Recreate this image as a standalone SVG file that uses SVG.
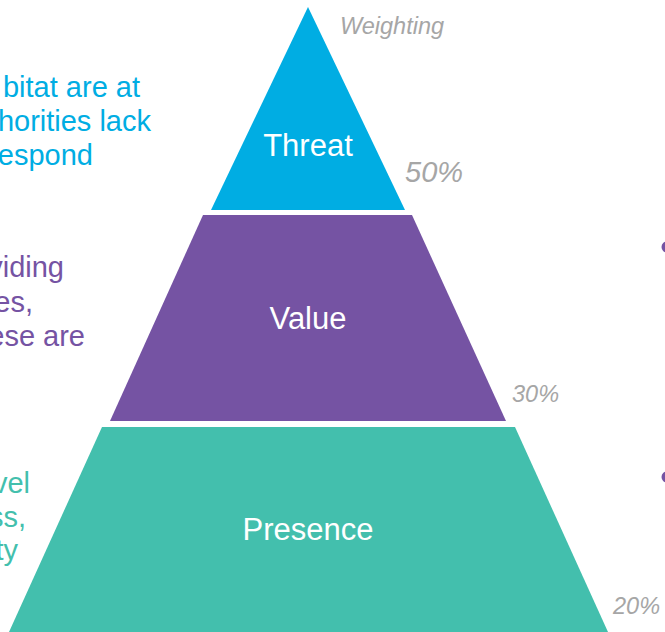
<svg xmlns="http://www.w3.org/2000/svg" width="665" height="632" viewBox="0 0 665 632">
<style>
.lbl{font-family:"Liberation Sans",Arial,sans-serif;font-size:31px;fill:#ffffff;text-anchor:middle}
.pct{font-family:"Liberation Sans",Arial,sans-serif;font-style:italic;fill:#a6a6a6}
.side{font-family:"Liberation Sans",Arial,sans-serif;font-size:29px;text-anchor:end}
.blue{fill:#00ade3}
.purple{fill:#7553a3}
.teal{fill:#43bfad}
</style>
<rect width="665" height="632" fill="#ffffff"/>
<g id="left-text">
<text class="side blue" x="140" y="97">bitat are at</text>
<text class="side blue" x="151" y="131">horities lack</text>
<text class="side blue" x="93" y="165">espond</text>
<text class="side purple" x="64" y="277">viding</text>
<text class="side purple" x="33" y="312">es,</text>
<text class="side purple" x="85" y="346">ese are</text>
<text class="side teal" x="30" y="493">vel</text>
<text class="side teal" x="26" y="527">ss,</text>
<text class="side teal" x="18" y="560">ty</text>
</g>
<g id="threat">
<polygon class="blue" points="308,7 405,210 211,210"/>
<text class="lbl" x="308" y="156">Threat</text>
</g>
<g id="value">
<polygon class="purple" points="203,215 412,215 506,421 110,421"/>
<text class="lbl" x="308" y="329">Value</text>
</g>
<g id="presence">
<polygon class="teal" points="102,427 515,427 608,632 9,632"/>
<text class="lbl" x="308" y="540">Presence</text>
</g>
<g id="weights">
<text class="pct" x="340" y="34" font-size="23.5">Weighting</text>
<text class="pct" x="405" y="182" font-size="29">50%</text>
<text class="pct" x="512" y="402" font-size="23.5">30%</text>
<text class="pct" x="613" y="614" font-size="23.5">20%</text>
</g>
<g id="bullets">
<circle class="purple" cx="667" cy="247" r="5.5"/>
<circle class="purple" cx="667" cy="477" r="5.5"/>
</g>
</svg>
